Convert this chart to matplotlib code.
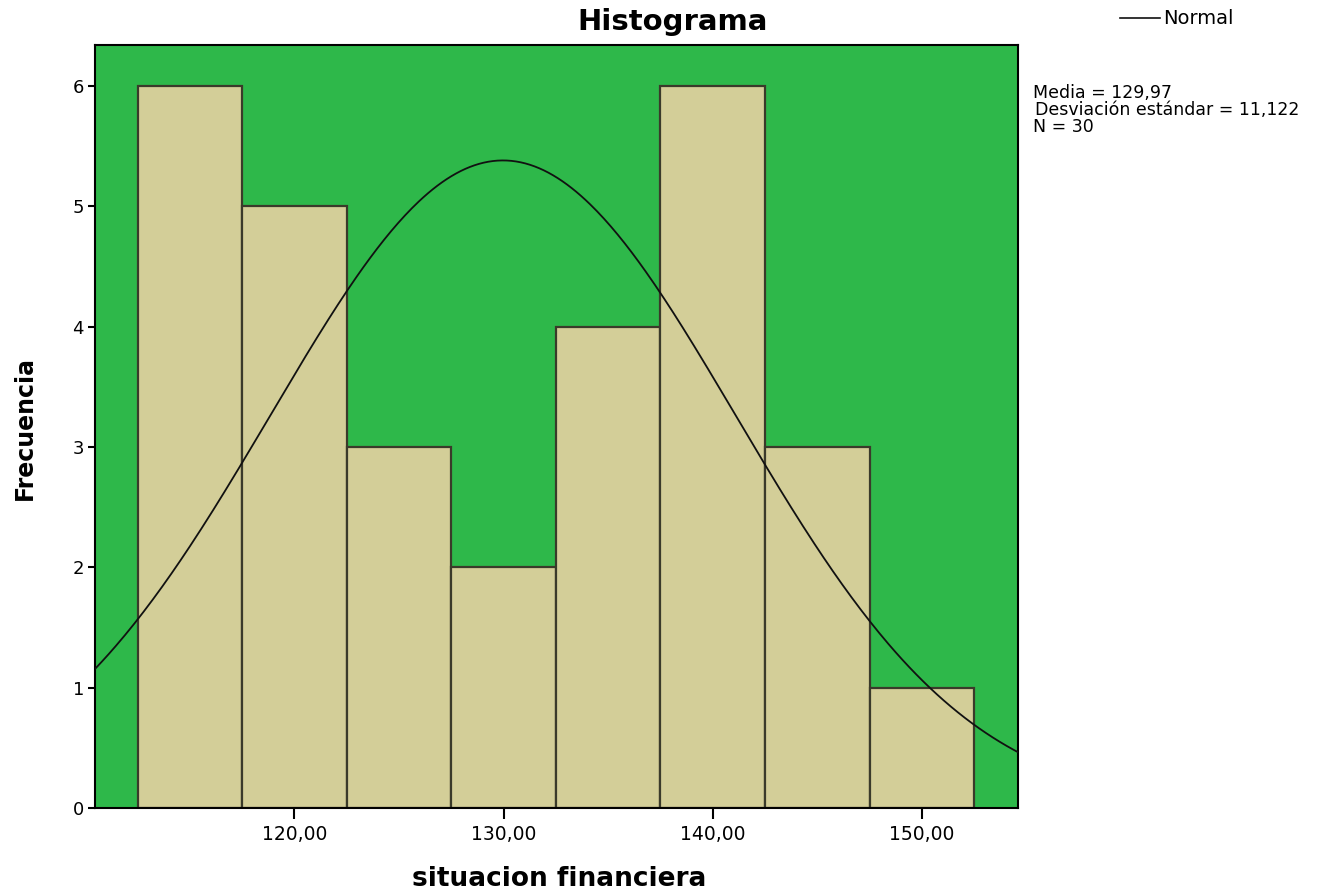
import matplotlib
matplotlib.use('Agg')
import matplotlib.pyplot as plt
import numpy as np

# datos del histograma
bordes = [112.5, 117.5, 122.5, 127.5, 132.5, 137.5, 142.5, 147.5, 152.5]
frecuencias = [6, 5, 3, 2, 4, 6, 3, 1]
media = 129.97
desv = 11.122
n = 30
ticks_x = [120, 130, 140, 150]
etiquetas_x = ['120,00', '130,00', '140,00', '150,00']

plt.rcParams['font.family'] = ['DejaVu Sans']

fig = plt.figure(figsize=(13.23, 8.92), dpi=100)
ax = fig.add_axes([0.0718, 0.0942, 0.6977, 0.8554])
ax.set_facecolor('#2eb84a')

ancho = np.diff(bordes)
ax.bar(bordes[:-1], frecuencias, width=ancho, align='edge',
       color='#d3ce98', edgecolor='#3a3a2a', linewidth=1.6, zorder=2)

# curva normal con la media y desviación indicadas
x = np.linspace(110.46, 154.6, 400)
y = n * 5 / (desv * np.sqrt(2 * np.pi)) * np.exp(-0.5 * ((x - media) / desv) ** 2)
ax.plot(x, y, color='#111111', linewidth=1.3, zorder=3)

ax.set_xlim(110.46, 154.6)
ax.set_ylim(0, 6.34)
ax.set_xticks(ticks_x)
ax.set_xticklabels(etiquetas_x)
ax.set_yticks(range(7))
ax.tick_params(axis='x', length=8, width=1.5, labelsize=13.5, pad=4)
ax.tick_params(axis='y', length=5, width=1.5, labelsize=13, pad=3)
for s in ax.spines.values():
    s.set_linewidth(1.5)

fig.text(559 / 1323, 1 - 879 / 892, 'situacion financiera', fontsize=19,
         fontweight='bold', ha='center', va='center')
fig.text(25 / 1323, 1 - 428 / 892, 'Frecuencia', fontsize=17, fontweight='bold',
         ha='center', va='center', rotation=90)
fig.text(673 / 1323, 1 - 22 / 892, 'Histograma', fontsize=21, fontweight='bold',
         ha='center', va='center')

# leyenda y estadísticos
fig.add_artist(plt.Line2D([1120 / 1323, 1160 / 1323], [1 - 18 / 892, 1 - 18 / 892],
                          color='#111111', linewidth=1.2))
fig.text(1163 / 1323, 1 - 18 / 892, 'Normal', fontsize=14, va='center', ha='left')
fig.text(1033 / 1323, 1 - 93 / 892, 'Media = 129,97', fontsize=12.5, va='center', ha='left')
fig.text(1035 / 1323, 1 - 110 / 892, 'Desviación estándar = 11,122', fontsize=12.5, va='center', ha='left')
fig.text(1033 / 1323, 1 - 127 / 892, 'N = 30', fontsize=12.5, va='center', ha='left')

fig.savefig('out.png', dpi=100)
